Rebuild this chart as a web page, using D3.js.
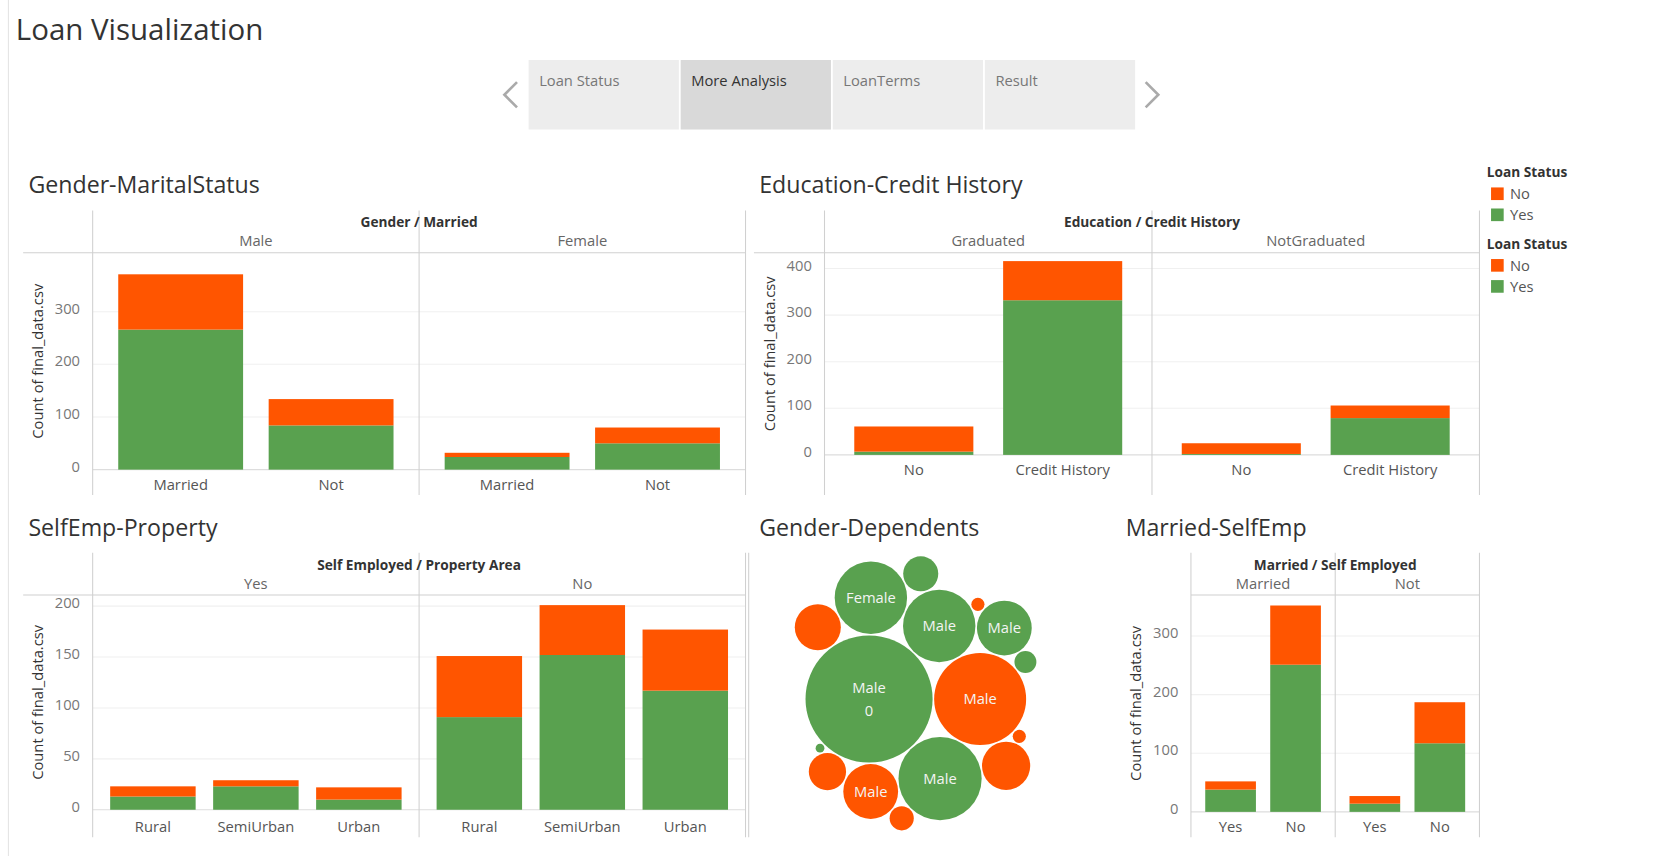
<!DOCTYPE html>
<html><head><meta charset="utf-8">
<script src="https://cdn.jsdelivr.net/npm/d3@7"></script>
<style>body{margin:0;background:#fff;font-family:"Open Sans","Noto Sans",sans-serif;}</style>
</head><body><svg id="canvas" width="1653" height="856"></svg>
<script>
"use strict";
var ORANGE = "#ff5500", GREEN = "#59a14f";

// Gender-MaritalStatus
var genderGroups = ["Male", "Female"];
var marriedCats = ["Married", "Not"];
var genderYes = [[266, 84], [24, 50]];
var genderNo = [[105, 50], [8, 30]];

// Education-Credit History
var eduGroups = ["Graduated", "NotGraduated"];
var creditCats = ["No", "Credit History"];
var eduYes = [[7, 332], [2, 79]];
var eduNo = [[54, 84], [23, 27]];

// SelfEmp-Property
var selfGroups = ["Yes", "No"];
var propCats = ["Rural", "SemiUrban", "Urban"];
var propYes = [[13, 23, 10], [91, 152, 117]];
var propNo = [[10, 6, 12], [60, 49, 60]];

// Married-SelfEmp
var marGroups = ["Married", "Not"];
var selfCats = ["Yes", "No"];
var marYes = [[38, 251], [14, 117]];
var marNo = [[14, 101], [13, 70]];

// Gender-Dependents bubbles
var bubbleValues = [3360, 1760, 1440, 1090, 1090, 625, 625, 484, 441, 289, 256, 121, 100, 36, 36, 16];
var bubbleStatus = ["Yes", "No", "Yes", "Yes", "Yes", "No", "Yes", "No", "No", "No", "Yes", "No", "Yes", "No", "No", "Yes"];
var bubbleLabels = ["Male\n0", "Male", "Male", "Male", "Female", "Male", "Male", "", "", "", "", "", "", "", "", ""];

var tabs = ["Loan Status", "More Analysis", "LoanTerms", "Result"];
var legendItems = ["No", "Yes"];

// the reference is laid out about 5% larger than these coordinates
var svg = d3.select("#canvas").append("g").attr("transform", "scale(1.053)");
var color = d3.scaleOrdinal().domain(["No", "Yes"]).range([ORANGE, GREEN]);

svg.append("line").attr("x1", 8).attr("x2", 8).attr("y1", 0).attr("y2", 856).attr("stroke", "#e4e4e4");
svg.append("text").attr("x", 15).attr("y", 38).attr("font-size", 28).attr("fill", "#333").text("Loan Visualization");

// Tabs
var tabX = d3.scaleBand().domain(tabs).range([502, 1078]).paddingInner(0.012);
svg.selectAll("rect.tab").data(tabs).enter().append("rect")
    .attr("x", function(d) { return tabX(d); }).attr("y", 57)
    .attr("width", tabX.bandwidth()).attr("height", 66)
    .attr("fill", function(d, i) { return i === 1 ? "#d9d9d9" : "#ededed"; });
svg.selectAll("text.tab").data(tabs).enter().append("text")
    .attr("x", function(d) { return tabX(d) + 10; }).attr("y", 82)
    .attr("font-size", 14).attr("fill", function(d, i) { return i === 1 ? "#333" : "#777"; })
    .text(function(d) { return d; });
svg.append("path").attr("d", "M491,78 L479,90 L491,102").attr("fill", "none").attr("stroke", "#aaa").attr("stroke-width", 2.5);
svg.append("path").attr("d", "M1088,78 L1100,90 L1088,102").attr("fill", "none").attr("stroke", "#aaa").attr("stroke-width", 2.5);

function drawFacet(opt) {
    var g = svg.append("g");
    g.append("text").attr("x", opt.titleX).attr("y", opt.titleY).attr("font-size", 22).attr("fill", "#333").text(opt.title);
    var outer = d3.scaleBand().domain(opt.groups).range([opt.x0, opt.x1]);
    var inner = d3.scaleBand().domain(opt.cats).range([0, outer.bandwidth()]).padding(opt.pad);
    var y = d3.scaleLinear().domain([0, opt.max]).range([opt.base, opt.top]);
    // grid
    g.selectAll("line.grid").data(opt.ticks).enter().append("line")
        .attr("x1", opt.x0).attr("x2", opt.x1)
        .attr("y1", function(d) { return y(d); }).attr("y2", function(d) { return y(d); })
        .attr("stroke", function(d) { return d === 0 ? "#ddd" : "#f0f0f0"; });
    // frame
    g.append("line").attr("x1", opt.frameL).attr("x2", opt.x1).attr("y1", opt.top).attr("y2", opt.top).attr("stroke", "#d0d0d0");
    opt.groups.forEach(function(grp, gi) {
        g.append("line").attr("x1", outer(grp)).attr("x2", outer(grp)).attr("y1", opt.headTop).attr("y2", opt.bottom).attr("stroke", "#d0d0d0");
        g.append("text").attr("x", outer(grp) + outer.bandwidth() / 2).attr("y", opt.top - 6)
            .attr("text-anchor", "middle").attr("font-size", 14).attr("fill", "#666").text(grp);
        var stack = opt.cats.map(function(c, ci) { return { cat: c, yes: opt.yes[gi][ci], no: opt.no[gi][ci] }; });
        var bars = g.append("g").attr("transform", "translate(" + outer(grp) + ",0)");
        bars.selectAll("rect.yes").data(stack).enter().append("rect")
            .attr("x", function(d) { return inner(d.cat); }).attr("width", inner.bandwidth())
            .attr("y", function(d) { return y(d.yes); }).attr("height", function(d) { return opt.base - y(d.yes); })
            .attr("fill", color("Yes"));
        bars.selectAll("rect.no").data(stack).enter().append("rect")
            .attr("x", function(d) { return inner(d.cat); }).attr("width", inner.bandwidth())
            .attr("y", function(d) { return y(d.yes + d.no); }).attr("height", function(d) { return y(d.yes) - y(d.yes + d.no); })
            .attr("fill", color("No"));
        bars.selectAll("text.cat").data(opt.cats).enter().append("text")
            .attr("x", function(d) { return inner(d) + inner.bandwidth() / 2; }).attr("y", opt.labelY)
            .attr("text-anchor", "middle").attr("font-size", 14).attr("fill", "#555").text(function(d) { return d; });
    });
    g.append("line").attr("x1", opt.x1).attr("x2", opt.x1).attr("y1", opt.headTop).attr("y2", opt.bottom).attr("stroke", "#d0d0d0");
    g.append("text").attr("x", (opt.x0 + opt.x1) / 2).attr("y", opt.headTop + 16).attr("text-anchor", "middle")
        .attr("font-size", 13).attr("font-weight", "bold").attr("fill", "#333").text(opt.header);
    var axis = g.append("g").attr("transform", "translate(" + opt.x0 + ",0)")
        .call(d3.axisLeft(y).tickValues(opt.ticks).tickSize(0).tickPadding(12));
    axis.select(".domain").remove();
    axis.selectAll("text").attr("font-size", 14).attr("fill", "#777").attr("font-family", "Open Sans, sans-serif").attr("dy", "0.1em");
    g.append("text").attr("transform", "translate(" + (opt.x0 - 47) + "," + ((opt.top + opt.base) / 2) + ") rotate(-90)")
        .attr("text-anchor", "middle").attr("font-size", 14).attr("fill", "#333").text("Count of final_data.csv");
}

drawFacet({ title: "Gender-MaritalStatus", titleX: 27, titleY: 183, header: "Gender / Married",
    groups: genderGroups, cats: marriedCats, yes: genderYes, no: genderNo, pad: 0.17,
    x0: 88, x1: 708, frameL: 22, headTop: 200, top: 240, base: 446, bottom: 470, labelY: 465,
    max: 412, ticks: [0, 100, 200, 300] });
drawFacet({ title: "Education-Credit History", titleX: 721, titleY: 183, header: "Education / Credit History",
    groups: eduGroups, cats: creditCats, yes: eduYes, no: eduNo, pad: 0.2,
    x0: 783, x1: 1405, frameL: 716, headTop: 200, top: 240, base: 432, bottom: 470, labelY: 451,
    max: 434, ticks: [0, 100, 200, 300, 400] });
drawFacet({ title: "SelfEmp-Property", titleX: 27, titleY: 509, header: "Self Employed / Property Area",
    groups: selfGroups, cats: propCats, yes: propYes, no: propNo, pad: 0.17,
    x0: 88, x1: 708, frameL: 22, headTop: 525, top: 565, base: 769, bottom: 795, labelY: 790,
    max: 211, ticks: [0, 50, 100, 150, 200] });
drawFacet({ title: "Married-SelfEmp", titleX: 1069, titleY: 509, header: "Married / Self Employed",
    groups: marGroups, cats: selfCats, yes: marYes, no: marNo, pad: 0.22,
    x0: 1131, x1: 1405, frameL: 1131, headTop: 525, top: 565, base: 771, bottom: 795, labelY: 790,
    max: 370, ticks: [0, 100, 200, 300] });

// Gender-Dependents bubbles
svg.append("text").attr("x", 721).attr("y", 509).attr("font-size", 22).attr("fill", "#333").text("Gender-Dependents");
svg.append("line").attr("x1", 711).attr("x2", 711).attr("y1", 525).attr("y2", 795).attr("stroke", "#d0d0d0");
var root = d3.hierarchy({ children: bubbleValues.map(function(v, i) {
    return { value: v, status: bubbleStatus[i], label: bubbleLabels[i] };
}) }).sum(function(d) { return d.value || 0; });
d3.pack().size([300, 270]).padding(1.5)(root);
var bub = svg.append("g").attr("transform", "translate(720,522)")
    .selectAll("g").data(root.leaves()).enter().append("g")
    .attr("transform", function(d) { return "translate(" + d.x + "," + d.y + ")"; });
bub.append("circle").attr("r", function(d) { return d.r; }).attr("fill", function(d) { return color(d.data.status); });
bub.each(function(d) {
    var lines = d.data.label ? d.data.label.split("\n") : [];
    var t = d3.select(this).append("text").attr("text-anchor", "middle").attr("font-size", 14).attr("fill", "#f4f4f4");
    lines.forEach(function(l, i) {
        t.append("tspan").attr("x", 0).attr("y", (i - (lines.length - 1) / 2) * 22 + 5).text(l);
    });
});

// Legends
[164, 232].forEach(function(ly) {
    var lg = svg.append("g").attr("transform", "translate(1412," + ly + ")");
    lg.append("text").attr("x", 0).attr("y", 4).attr("font-size", 13).attr("font-weight", "bold").attr("fill", "#333").text("Loan Status");
    lg.selectAll("rect").data(legendItems).enter().append("rect")
        .attr("x", 4).attr("y", function(d, i) { return 14 + i * 20; }).attr("width", 12).attr("height", 12)
        .attr("fill", function(d) { return color(d); });
    lg.selectAll("text.item").data(legendItems).enter().append("text")
        .attr("x", 22).attr("y", function(d, i) { return 25 + i * 20; }).attr("font-size", 14).attr("fill", "#555")
        .text(function(d) { return d; });
});
</script></body></html>
